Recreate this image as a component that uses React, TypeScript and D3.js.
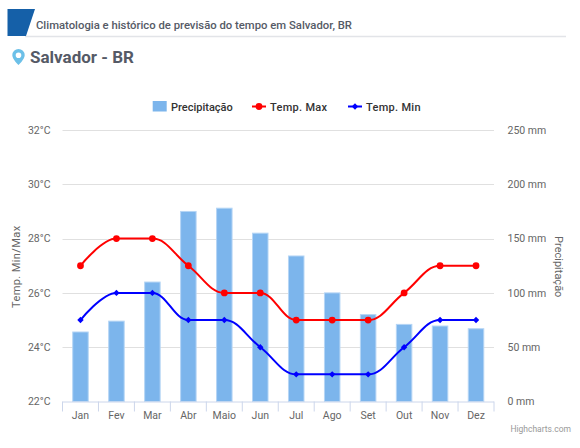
import React, { useRef, useEffect } from 'react';
import * as d3 from 'd3';

const months = ['Jan', 'Fev', 'Mar', 'Abr', 'Maio', 'Jun', 'Jul', 'Ago', 'Set', 'Out', 'Nov', 'Dez'];
const precipitation = [64, 74, 110, 175, 178, 155, 134, 100, 80, 71, 69.5, 67];
const tempMax = [27, 28, 28, 27, 26, 26, 25, 25, 25, 26, 27, 27];
const tempMin = [25, 26, 26, 25, 25, 24, 23, 23, 23, 24, 25, 25];
const tempTicks = [22, 24, 26, 28, 30, 32];
const rainTicks = [0, 50, 100, 150, 200, 250];

const FONT = 'Roboto, sans-serif';
const TEXT = '#666666';

// same spline as Highcharts (smoothing 1.5, clamped so it never overshoots)
function splinePath(pts: [number, number][]) {
  const p = d3.path();
  const right: [number, number][] = [];
  const left: [number, number][] = [];
  pts.forEach(([x, y], i) => {
    if (i === 0 || i === pts.length - 1) {
      left.push([x, y]);
      right.push([x, y]);
      return;
    }
    const [lx, ly] = pts[i - 1];
    const [nx, ny] = pts[i + 1];
    const lcx = (1.5 * x + lx) / 2.5;
    const rcx = (1.5 * x + nx) / 2.5;
    let lcy = (1.5 * y + ly) / 2.5;
    let rcy = (1.5 * y + ny) / 2.5;
    const correction = ((rcy - lcy) * (rcx - x)) / (rcx - lcx) + y - rcy;
    lcy += correction;
    rcy += correction;
    if (lcy > ly && lcy > y) {
      lcy = Math.max(ly, y);
      rcy = 2 * y - lcy;
    } else if (lcy < ly && lcy < y) {
      lcy = Math.min(ly, y);
      rcy = 2 * y - lcy;
    }
    if (rcy > ny && rcy > y) {
      rcy = Math.max(ny, y);
      lcy = 2 * y - rcy;
    } else if (rcy < ny && rcy < y) {
      rcy = Math.min(ny, y);
      lcy = 2 * y - rcy;
    }
    left.push([lcx, lcy]);
    right.push([rcx, rcy]);
  });
  pts.forEach(([x, y], i) => {
    if (i === 0) p.moveTo(x, y);
    else p.bezierCurveTo(right[i - 1][0], right[i - 1][1], left[i][0], left[i][1], x, y);
  });
  return p.toString();
}

export default function App() {
  const svgRef = useRef<SVGSVGElement | null>(null);

  useEffect(() => {
    if (!svgRef.current) return;
    const svg = d3.select(svgRef.current);
    svg.selectAll('*').remove();

    const margin = { top: 130, right: 86, bottom: 46.5, left: 62.5 };
    const width = 580;
    const height = 448;

    const x = d3.scaleBand<string>().domain(months).range([margin.left, width - margin.right]);
    const yTemp = d3.scaleLinear().domain([22, 32]).range([height - margin.bottom, margin.top]);
    const yRain = d3.scaleLinear().domain([0, 250]).range([height - margin.bottom, margin.top]);
    const cx = (m: string) => (x(m) || 0) + x.bandwidth() / 2;

    // page header
    svg.append('line')
      .attr('x1', 25).attr('x2', 566).attr('y1', 36.5).attr('y2', 36.5)
      .attr('stroke', '#e2e4e8').attr('stroke-width', 1.5);
    svg.append('path').attr('d', 'M7.500 9H35L26 36H7.500Z').attr('fill', '#1560a8');
    svg.append('text')
      .attr('x', 36).attr('y', 29)
      .attr('font-family', FONT).attr('font-size', 11.3).attr('font-weight', 500)
      .attr('fill', '#555a66')
      .text('Climatologia e histórico de previsão do tempo em Salvador, BR');
    svg.append('path')
      .attr('d', 'M18.500 49a6.200 6.200 0 0 0-6.200 6.200C12.300 59.200 18.500 65 18.500 65s6.200-5.800 6.200-9.800A6.200 6.200 0 0 0 18.500 49Zm0 3.400a2.800 2.800 0 1 1 0 5.600 2.800 2.800 0 0 1 0-5.600Z')
      .attr('fill', '#6cc0e8').attr('fill-rule', 'evenodd');
    svg.append('text')
      .attr('x', 30).attr('y', 63)
      .attr('font-family', FONT).attr('font-size', 17).attr('font-weight', 700)
      .attr('fill', '#555a66')
      .text('Salvador - BR');

    // gridlines
    svg.append('g').selectAll('line').data(tempTicks.slice(1)).enter().append('line')
      .attr('x1', margin.left).attr('x2', width - margin.right)
      .attr('y1', d => Math.round(yTemp(d)) + 0.5).attr('y2', d => Math.round(yTemp(d)) + 0.5)
      .attr('stroke', '#e0e0e0').attr('stroke-width', 1);

    // temperature axis on the left
    const axisLeft = d3.axisLeft(yTemp).tickValues(tempTicks).tickSize(0).tickPadding(12).tickFormat(d => `${d}°C`);
    svg.append('g')
      .attr('transform', `translate(${margin.left},0)`)
      .call(axisLeft)
      .call(g => g.select('.domain').remove())
      .selectAll('text')
      .attr('font-family', FONT).attr('font-size', 10.5).attr('fill', TEXT);

    // precipitation axis on the right
    const axisRight = d3.axisRight(yRain).tickValues(rainTicks).tickSize(0).tickPadding(13.5).tickFormat(d => `${d} mm`);
    svg.append('g')
      .attr('transform', `translate(${width - margin.right},0)`)
      .call(axisRight)
      .call(g => g.select('.domain').remove())
      .selectAll('text')
      .attr('font-family', FONT).attr('font-size', 10.5).attr('fill', TEXT);

    // axis titles
    svg.append('text')
      .attr('transform', `translate(20,${(margin.top + height - margin.bottom) / 2 + 1}) rotate(-90)`)
      .attr('text-anchor', 'middle')
      .attr('font-family', FONT).attr('font-size', 11).attr('letter-spacing', 0.4).attr('fill', TEXT)
      .text('Temp. Min/Max');
    svg.append('text')
      .attr('transform', `translate(555,${(margin.top + height - margin.bottom) / 2 + 1}) rotate(90)`)
      .attr('text-anchor', 'middle')
      .attr('font-family', FONT).attr('font-size', 11).attr('fill', TEXT)
      .text('Precipitação');

    // bars
    const barWidth = 15.5;
    svg.append('g').selectAll('rect').data(precipitation).enter().append('rect')
      .attr('x', (_, i) => cx(months[i]) - barWidth / 2)
      .attr('y', d => yRain(d))
      .attr('width', barWidth)
      .attr('height', d => yRain(0) - yRain(d))
      .attr('fill', '#7cb5ec')
      .attr('stroke', '#b5d5f5').attr('stroke-width', 1);

    // x axis
    const axisBottom = d3.axisBottom(x).tickSize(0).tickPadding(10);
    const gx = svg.append('g')
      .attr('transform', `translate(0,${height - margin.bottom})`)
      .call(axisBottom);
    gx.select('.domain').remove();
    gx.selectAll('text').attr('font-family', FONT).attr('font-size', 10.5).attr('fill', TEXT);
    gx.append('line')
      .attr('x1', margin.left).attr('x2', width - margin.right)
      .attr('y1', 0.5).attr('y2', 0.5)
      .attr('stroke', '#ccd6eb').attr('stroke-width', 1);
    gx.append('g').selectAll('line')
      .data([...months.map(m => x(m) || 0), width - margin.right])
      .enter().append('line')
      .attr('x1', d => d).attr('x2', d => d)
      .attr('y1', 0).attr('y2', 10)
      .attr('stroke', '#ccd6eb').attr('stroke-width', 1);

    // temperature lines
    const toPts = (vals: number[]) => vals.map((v, i) => [cx(months[i]), yTemp(v)] as [number, number]);
    svg.append('path')
      .attr('d', splinePath(toPts(tempMax)))
      .attr('fill', 'none').attr('stroke', '#ff0000').attr('stroke-width', 2);
    svg.append('g').selectAll('circle').data(tempMax).enter().append('circle')
      .attr('cx', (_, i) => cx(months[i])).attr('cy', d => yTemp(d))
      .attr('r', 3.4).attr('fill', '#ff0000');
    svg.append('path')
      .attr('d', splinePath(toPts(tempMin)))
      .attr('fill', 'none').attr('stroke', '#0000ff').attr('stroke-width', 2);
    const diamond = d3.symbol().type(d3.symbolDiamond2).size(26)();
    svg.append('g').selectAll('path').data(tempMin).enter().append('path')
      .attr('d', diamond)
      .attr('transform', (d, i) => `translate(${cx(months[i])},${yTemp(d)})`)
      .attr('fill', '#0000ff');

    // legend
    const legend = svg.append('g');
    const legendY = 106.5;
    legend.append('rect').attr('x', 152.7).attr('y', 101).attr('width', 14).attr('height', 10.5).attr('fill', '#7cb5ec');
    [
      { label: 'Precipitação', tx: 171, spacing: 0 },
      { label: 'Temp. Max', tx: 270, spacing: 0.3 },
      { label: 'Temp. Min', tx: 366, spacing: 0.3 },
    ].forEach(d => {
      legend.append('text')
        .attr('x', d.tx).attr('y', legendY + 4)
        .attr('font-family', FONT).attr('font-size', 11).attr('font-weight', 500)
        .attr('letter-spacing', d.spacing).attr('fill', '#333333')
        .text(d.label);
    });
    legend.append('line').attr('x1', 252).attr('x2', 266).attr('y1', legendY).attr('y2', legendY)
      .attr('stroke', '#ff0000').attr('stroke-width', 2);
    legend.append('circle').attr('cx', 259).attr('cy', legendY).attr('r', 3.4).attr('fill', '#ff0000');
    legend.append('line').attr('x1', 348).attr('x2', 362).attr('y1', legendY).attr('y2', legendY)
      .attr('stroke', '#0000ff').attr('stroke-width', 2);
    legend.append('path').attr('d', diamond).attr('transform', `translate(355,${legendY})`).attr('fill', '#0000ff');

    // credits
    svg.append('text')
      .attr('x', 571).attr('y', 432).attr('text-anchor', 'end')
      .attr('font-family', FONT).attr('font-size', 8.5).attr('fill', '#999999')
      .text('Highcharts.com');
  }, []);

  return <svg ref={svgRef} width={580} height={448} style={{ position: 'absolute', left: 0, top: 0, background: '#fff' }} />;
}
